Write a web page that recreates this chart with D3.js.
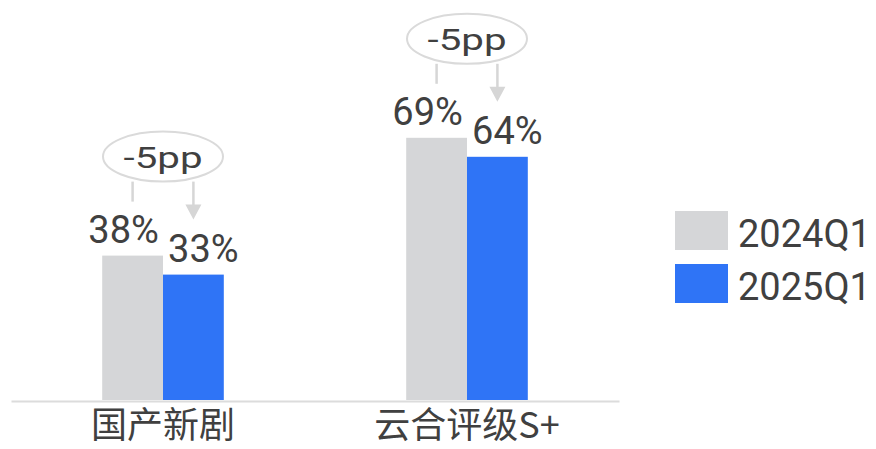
<!DOCTYPE html>
<html>
<head>
<meta charset="utf-8">
<title>国产新剧 / 云合评级S+</title>
<script src="https://d3js.org/d3.v7.min.js"></script>
<style>
  body { margin: 0; background: #fff; }
  svg { display: block; }
</style>
</head>
<body>
<div id="chart"></div>
<script>
// data
var categories = ["国产新剧", "云合评级S+"];
var seriesNames = ["2024Q1", "2025Q1"];
var values2024 = [38, 69];
var values2025 = [33, 64];
var changeLabels = ["-5pp", "-5pp"];

var colors = ["#d5d6d8", "#2f74f6"];
var textColor = "#404040";
var lineColor = "#d6d6d6";

var width = 876, height = 449;
var baseY = 400;

var svg = d3.select("#chart").append("svg")
    .attr("width", width)
    .attr("height", height);

var x = d3.scaleBand()
    .domain(categories)
    .range([11, 619])
    .paddingInner(0.6)
    .paddingOuter(0.3);

var xSub = d3.scaleBand()
    .domain(seriesNames)
    .range([0, x.bandwidth()]);

var y = d3.scaleLinear()
    .domain([0, 100])
    .range([baseY, 20]);

var rows = categories.map(function(c, i) {
  return { cat: c, vals: [values2024[i], values2025[i]], change: changeLabels[i] };
});

var groups = svg.selectAll("g.group")
    .data(rows)
  .enter().append("g")
    .attr("class", "group")
    .attr("transform", function(d) { return "translate(" + x(d.cat) + ",0)"; });

// bars
groups.selectAll("rect")
    .data(function(d) { return d.vals.map(function(v, j) { return { key: seriesNames[j], v: v, j: j }; }); })
  .enter().append("rect")
    .attr("x", function(d) { return xSub(d.key); })
    .attr("y", function(d) { return y(d.v); })
    .attr("width", xSub.bandwidth())
    .attr("height", function(d) { return baseY - y(d.v); })
    .attr("fill", function(d) { return colors[d.j]; });

// value labels
groups.selectAll("text.val")
    .data(function(d) { return d.vals.map(function(v, j) { return { key: seriesNames[j], v: v, j: j }; }); })
  .enter().append("text")
    .attr("class", "val")
    .attr("x", function(d) { return xSub(d.key) + xSub.bandwidth() / 2 + (d.j === 0 ? -9 : 10); })
    .attr("y", function(d) { return y(d.v) - 13; })
    .attr("text-anchor", "middle")
    .attr("fill", textColor)
    .style("font-family", "Roboto, 'Noto Sans', sans-serif")
    .style("font-size", "38px")
    .text(function(d) { return d.v + "%"; });

// change annotation
groups.each(function(d) {
  var g = d3.select(this);
  var cx = x.bandwidth() / 2;
  var cy = y(d.vals[0]) - 99;
  var x0 = xSub(seriesNames[0]) + xSub.bandwidth() / 2;
  var x1 = xSub(seriesNames[1]) + xSub.bandwidth() / 2;
  var tipY = y(d.vals[1]) - 55;

  g.append("line")
    .attr("x1", x0).attr("x2", x0)
    .attr("y1", cy + 25).attr("y2", y(d.vals[0]) - 54)
    .attr("stroke", lineColor).attr("stroke-width", 2.5);

  g.append("line")
    .attr("x1", x1).attr("x2", x1)
    .attr("y1", cy + 25).attr("y2", tipY - 10)
    .attr("stroke", lineColor).attr("stroke-width", 2.5);

  g.append("path")
    .attr("d", "M" + (x1 - 8) + "," + (tipY - 15) + "L" + (x1 + 8) + "," + (tipY - 15) + "L" + x1 + "," + tipY + "Z")
    .attr("fill", lineColor);

  g.append("ellipse")
    .attr("cx", cx).attr("cy", cy)
    .attr("rx", 60).attr("ry", 25)
    .attr("fill", "#fff")
    .attr("stroke", "#dadada")
    .attr("stroke-width", 2);

  g.append("text")
    .attr("x", cx)
    .attr("y", cy + 11)
    .attr("text-anchor", "middle")
    .attr("fill", textColor)
    .attr("textLength", 79)
    .attr("lengthAdjust", "spacingAndGlyphs")
    .style("font-family", "Roboto, 'Noto Sans', sans-serif")
    .style("font-size", "30px")
    .text(d.change);
});

// x axis
var xAxis = svg.append("g")
    .attr("transform", "translate(0," + (baseY + 1) + ")")
    .call(d3.axisBottom(x).tickSize(0).tickPadding(0));

xAxis.select(".domain")
    .attr("stroke", "#dcdcdc")
    .attr("stroke-width", 2);

xAxis.selectAll(".tick text")
    .attr("fill", textColor)
    .attr("y", 37)
    .attr("dy", null)
    .style("font-family", "'Noto Sans CJK SC', 'Noto Sans', sans-serif")
    .style("font-size", "36px");

// legend
var legend = svg.selectAll("g.legend")
    .data(seriesNames)
  .enter().append("g")
    .attr("class", "legend")
    .attr("transform", function(d, i) { return "translate(675," + (211 + i * 53) + ")"; });

legend.append("rect")
    .attr("width", 53)
    .attr("height", 39)
    .attr("fill", function(d, i) { return colors[i]; });

legend.append("text")
    .attr("x", 63)
    .attr("y", 36)
    .attr("fill", textColor)
    .style("font-family", "Roboto, 'Noto Sans', sans-serif")
    .style("font-size", "38px")
    .text(function(d) { return d; });
</script>
</body>
</html>
